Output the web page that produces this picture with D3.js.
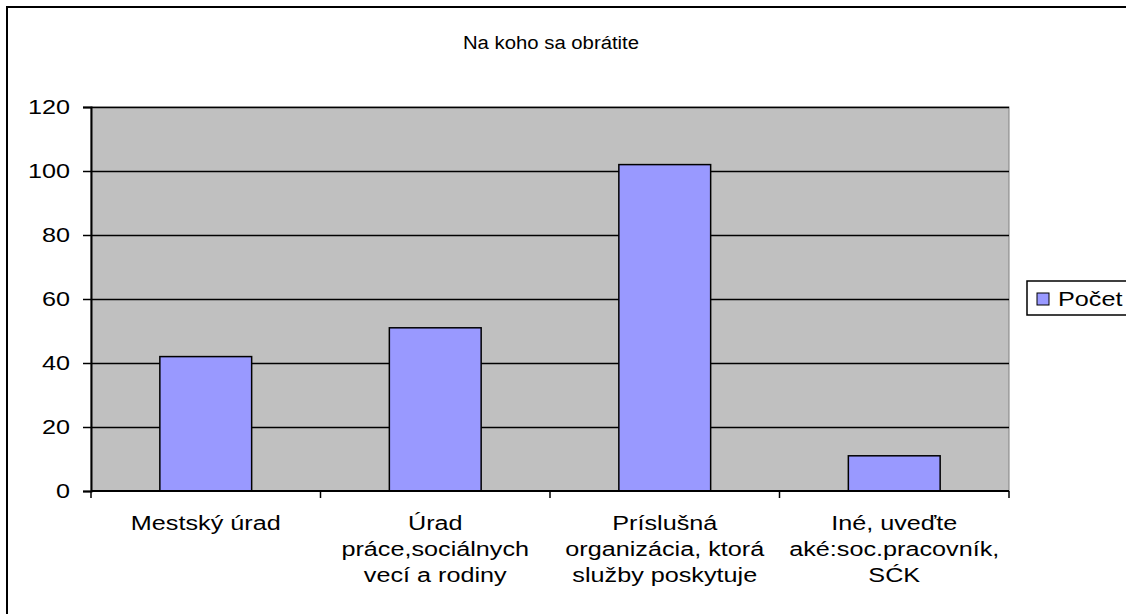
<!DOCTYPE html>
<html>
<head>
<meta charset="utf-8">
<script src="https://cdn.jsdelivr.net/npm/d3@7"></script>
<style>
  body { margin: 0; background: #fff; }
  svg { display: block; font-family: "Liberation Sans", Arial, sans-serif; }
</style>
</head>
<body>
<script>
const title = "Na koho sa obrátite";
const seriesName = "Počet";
const categories = [
    ["Mestský úrad"],
    ["Úrad", "práce,sociálnych", "vecí a rodiny"],
    ["Príslušná", "organizácia, ktorá", "služby poskytuje"],
    ["Iné, uveďte", "aké:soc.pracovník,", "SĆK"]
];
const values = [42, 51, 102, 11];
const yTicks = [0, 20, 40, 60, 80, 100, 120];

const width = 1126, height = 614;
const plot = {left: 91, right: 1009, top: 107, bottom: 491};
const stretch = 1.2; // text in the original is drawn wide

const svg = d3.select("body").append("svg")
    .attr("width", width)
    .attr("height", height);

// outer chart border
svg.append("rect")
    .attr("x", 7).attr("y", 7)
    .attr("width", 1130).attr("height", 620)
    .attr("fill", "#fff")
    .attr("stroke", "#000")
    .attr("stroke-width", 2);

svg.append("text")
    .attr("transform", "translate(551,49) scale(1.07,1)")
    .attr("text-anchor", "middle")
    .attr("font-size", 19)
    .text(title);

const x = d3.scaleBand()
    .domain(d3.range(categories.length))
    .range([plot.left, plot.right])
    .paddingInner(0.6)
    .paddingOuter(0.3);

const y = d3.scaleLinear()
    .domain([0, 120])
    .range([plot.bottom, plot.top]);

// plot area
svg.append("rect")
    .attr("x", plot.left).attr("y", plot.top)
    .attr("width", plot.right - plot.left)
    .attr("height", plot.bottom - plot.top)
    .attr("fill", "#c0c0c0")
    .attr("stroke", "#808080")
    .attr("stroke-width", 1);

// gridlines
svg.append("g")
    .selectAll("line")
    .data(yTicks.slice(1))
    .join("line")
    .attr("x1", plot.left).attr("x2", plot.right)
    .attr("y1", d => y(d) + 0.5).attr("y2", d => y(d) + 0.5)
    .attr("stroke", "#000")
    .attr("stroke-width", 1.5);

// bars
svg.append("g")
    .selectAll("rect")
    .data(values)
    .join("rect")
    .attr("x", (d, i) => x(i))
    .attr("y", d => y(d))
    .attr("width", x.bandwidth())
    .attr("height", d => y(0) - y(d))
    .attr("fill", "#9999ff")
    .attr("stroke", "#000")
    .attr("stroke-width", 1.5);

// y axis
const yAxis = svg.append("g")
    .attr("transform", `translate(${plot.left},0)`)
    .call(d3.axisLeft(y).tickValues(yTicks).tickSize(8).tickPadding(12));
yAxis.select(".domain").attr("stroke", "#000").attr("stroke-width", 2);
yAxis.selectAll(".tick line").attr("stroke-width", 1.5);
yAxis.selectAll("text")
    .attr("x", -21 / stretch)
    .attr("transform", `scale(${stretch},1)`)
    .attr("font-size", 21)
    .attr("fill", "#000")
    .attr("font-family", "Liberation Sans, Arial, sans-serif");

// x axis
svg.append("line")
    .attr("x1", plot.left).attr("x2", plot.right)
    .attr("y1", plot.bottom).attr("y2", plot.bottom)
    .attr("stroke", "#000").attr("stroke-width", 2);
const step = x.step();
svg.append("g")
    .selectAll("line")
    .data(d3.range(categories.length + 1))
    .join("line")
    .attr("x1", i => plot.left + i * step).attr("x2", i => plot.left + i * step)
    .attr("y1", plot.bottom).attr("y2", plot.bottom + 7)
    .attr("stroke", "#000").attr("stroke-width", 1.5);

const labels = svg.append("g")
    .selectAll("text")
    .data(categories)
    .join("text")
    .attr("text-anchor", "middle")
    .attr("font-size", 21)
    .attr("transform", (d, i) =>
        `translate(${x(i) + x.bandwidth() / 2},530) scale(${stretch},1)`);
labels.selectAll("tspan")
    .data(d => d)
    .join("tspan")
    .attr("x", 0)
    .attr("dy", (d, i) => i === 0 ? 0 : 26)
    .text(d => d);

// legend
const legend = svg.append("g");
legend.append("rect")
    .attr("x", 1027).attr("y", 281)
    .attr("width", 120).attr("height", 34)
    .attr("fill", "#fff")
    .attr("stroke", "#000")
    .attr("stroke-width", 1.5);
legend.append("rect")
    .attr("x", 1037).attr("y", 293)
    .attr("width", 12).attr("height", 12)
    .attr("fill", "#9999ff")
    .attr("stroke", "#000")
    .attr("stroke-width", 1);
legend.append("text")
    .attr("transform", `translate(1058,306) scale(${stretch},1)`)
    .attr("font-size", 21)
    .text(seriesName);
</script>
</body>
</html>
